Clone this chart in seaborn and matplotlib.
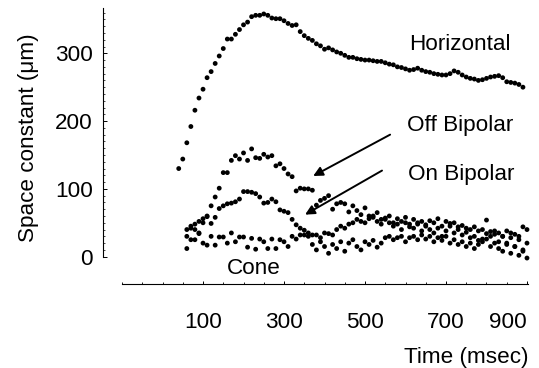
import numpy as np
import pandas as pd
import matplotlib
matplotlib.use('Agg')
import matplotlib.pyplot as plt
import seaborn as sns
from matplotlib.ticker import FixedLocator

# ---------------- data ----------------
horiz_time = np.arange(40, 891, 10)
horiz_vals = [130, 144, 168, 192, 216, 234, 247, 264, 273, 285,
              296, 307, 321, 321, 328, 335, 342, 346, 354, 356,
              356, 358, 356, 352, 351, 351, 348, 344, 341, 342,
              332, 326, 322, 319, 314, 311, 306, 308, 305, 302,
              300, 297, 294, 294, 292, 291, 290, 290, 289, 288,
              288, 286, 284, 283, 280, 279, 277, 275, 276, 278,
              275, 273, 272, 270, 269, 268, 268, 270, 274, 272,
              268, 265, 263, 262, 260, 261, 263, 265, 266, 267,
              264, 258, 257, 256, 254, 250]

low_time = np.arange(60, 901, 10)
off_vals = [40, 45, 48, 52, 56, 60, 75, 88, 101, 124,
            124, 142, 149, 144, 153, 142, 159, 146, 145, 151,
            147, 149, 134, 137, 130, 122, 118, 97, 101, 100,
            100, 98, 76, 83, 86, 90, 70, 78, 80, 78,
            66, 75, 68, 62, 72, 60, 58, 65, 55, 57,
            60, 50, 56, 52, 58, 48, 55, 50, 52, 47,
            53, 50, 56, 45, 52, 49, 50, 44, 46, 42,
            40, 44, 38, 40, 54, 37, 33, 35, 30, 38,
            28, 33, 30, 44, 40]
on_vals = [30, 42, 40, 35, 50, 59, 49, 58, 71, 75,
           78, 79, 81, 85, 96, 96, 95, 93, 88, 79,
           80, 85, 81, 69, 67, 65, 55, 47, 42, 39,
           35, 32, 32, 28, 35, 34, 32, 40, 45, 42,
           48, 50, 55, 52, 50, 56, 60, 52, 48, 55,
           50, 45, 48, 40, 50, 44, 42, 48, 38, 45,
           40, 35, 42, 30, 38, 45, 35, 40, 32, 36,
           28, 30, 24, 26, 34, 30, 38, 22, 30, 20,
           35, 15, 25, 10, 20]
cone_vals = [12, 25, 25, 34, 20, 17, 30, 17, 29, 29,
             20, 35, 22, 29, 29, 14, 27, 11, 26, 22,
             12, 26, 12, 25, 22, 15, 30, 26, 32, 32,
             30, 18, 10, 22, 15, 5, 18, 12, 22, 8,
             20, 25, 15, 10, 22, 18, 24, 14, 20, 28,
             30, 25, 28, 30, 22, 28, 30, 25, 32, 26,
             30, 22, 28, 24, 30, 20, 25, 18, 22, 15,
             20, 12, 18, 22, 26, 15, 20, 12, 8, 18,
             5, 15, 2, 8, -2]

series_names = ["Horizontal", "Off Bipolar", "On Bipolar", "Cone"]
x_ticks = [100, 300, 500, 700, 900]
y_ticks = [0, 100, 200, 300]

df = pd.concat([
    pd.DataFrame({"time": horiz_time, "value": horiz_vals, "series": "Horizontal"}),
    pd.DataFrame({"time": low_time, "value": off_vals, "series": "Off Bipolar"}),
    pd.DataFrame({"time": low_time, "value": on_vals, "series": "On Bipolar"}),
    pd.DataFrame({"time": low_time, "value": cone_vals, "series": "Cone"}),
], ignore_index=True)

# ---------------- style ----------------
sns.set_style("ticks")
plt.rcParams["font.family"] = ["Liberation Sans", "DejaVu Sans"]
plt.rcParams["font.size"] = 16.2
for k in ["text.color", "axes.labelcolor", "xtick.color", "ytick.color", "axes.edgecolor"]:
    plt.rcParams[k] = "black"

fig = plt.figure(figsize=(5.39, 3.68), dpi=100)
ax = fig.add_axes([103 / 539, 1 - 284 / 368, 425 / 539, 276 / 368])

sns.scatterplot(data=df, x="time", y="value", hue="series",
                palette={s: "black" for s in series_names},
                s=12, linewidth=0, legend=False, ax=ax)
for c in ax.collections:
    c.set_clip_on(False)

ax.set_xlim(-147, 902.5)
ax.set_ylim(-40.3, 366.8)

for side in ["top", "right"]:
    ax.spines[side].set_visible(False)
ax.spines["left"].set_bounds(0, 366.8)
ax.spines["bottom"].set_bounds(-100, 902)
ax.spines["left"].set_linewidth(0.8)
ax.spines["bottom"].set_linewidth(0.8)

ax.xaxis.set_major_locator(FixedLocator(x_ticks))
ax.xaxis.set_minor_locator(FixedLocator(list(range(-100, 901, 50))))
ax.yaxis.set_major_locator(FixedLocator(y_ticks))
ax.yaxis.set_minor_locator(FixedLocator(list(range(0, 361, 10))))
ax.tick_params(axis="x", which="major", direction="in", length=2.5, width=0.7, pad=20.5)
ax.tick_params(axis="x", which="minor", direction="in", length=1.5, width=0.6)
ax.tick_params(axis="y", which="major", direction="in", length=3, width=0.7, pad=7.2)
ax.tick_params(axis="y", which="minor", direction="in", length=1.5, width=0.5)
ax.set_xticklabels([str(v) for v in x_ticks])
ax.get_xticklabels()[-1].set_horizontalalignment("right")

ax.set_xlabel("")
ax.set_ylabel("Space constant (\u03bcm)")
ax.yaxis.set_label_coords(-0.151, 0.529)
fig.text(528 / 539, 1 - 363 / 368, "Time (msec)", ha="right", va="baseline")

# labels and arrows
ax.text(734, 305, "Horizontal", ha="center", va="baseline")
ax.text(734, 185, "Off Bipolar", ha="center", va="baseline")
ax.text(737, 113, "On Bipolar", ha="center", va="baseline")
ax.text(226, -25.5, "Cone", ha="center", va="baseline")
arrow = dict(arrowstyle="-|>", color="black", lw=1.4, mutation_scale=14,
             shrinkA=0, shrinkB=0)
ax.annotate("", xy=(372, 119), xytext=(562, 180), arrowprops=arrow)
ax.annotate("", xy=(352, 62), xytext=(542, 127), arrowprops=arrow)

fig.savefig("out.png", dpi=100)
